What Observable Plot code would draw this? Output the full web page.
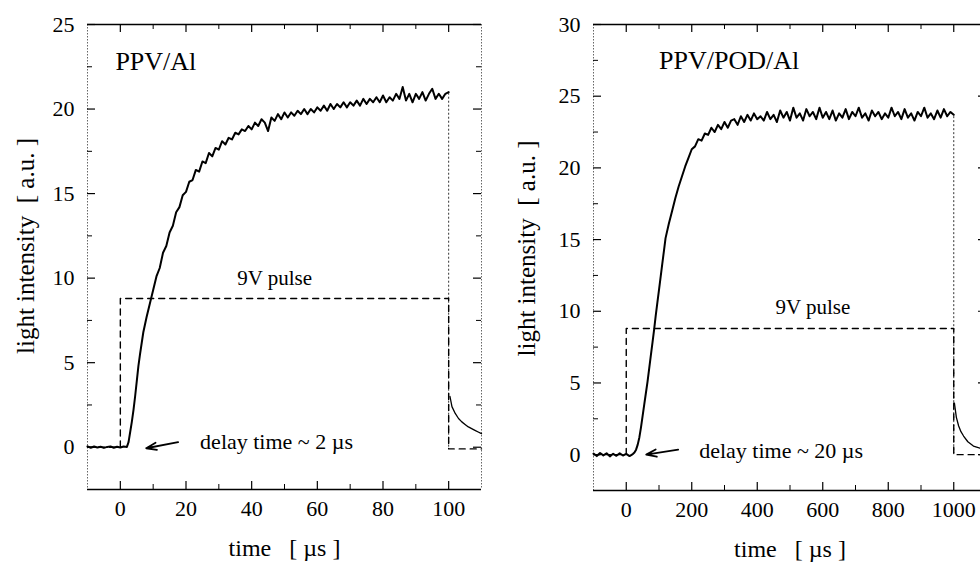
<!DOCTYPE html>
<html><head><meta charset="utf-8">
<script src="https://cdn.jsdelivr.net/npm/d3@7"></script>
<script src="https://cdn.jsdelivr.net/npm/@observablehq/plot@0.6"></script>
<style>
body{margin:0;background:#fff;}
#wrap{width:980px;height:562px;overflow:hidden;display:flex;background:#fff;}
#wrap svg{flex:none;display:block;}
</style></head><body><div id="wrap"></div>
<script>
// ---------- LEFT PANEL DATA (PPV/Al) ----------
const leftOnTime = [-10,-9,-8,-7,-6,-5,-4,-3,-2,-1,0,1,2,2.5,3,3.5,4,4.5,5,5.5,6,7,8,9,10,
  11,12,13,14,15,16,17,18,19,20,21,22,23,24,25,26,27,28,29,30,31,32,33,34,35,36,37,38,39,40,
  41,42,43,44,45,46,47,48,49,50,51,52,53,54,55,56,57,58,59,60,61,62,63,64,65,66,67,68,69,70,
  71,72,73,74,75,76,77,78,79,80,81,82,83,84,85,86,87,88,89,90,91,92,93,94,95,96,97,98,99,100];
const leftOnValue = [0.05,-0.03,0.04,-0.02,0.03,-0.04,0.02,0.05,-0.03,0.03,-0.02,0.04,0.02,
  0.3,0.9,1.5,2.2,3.0,3.9,4.8,5.5,6.8,7.7,8.5,9.3,
  10.1,10.6,11.5,11.9,12.7,13.1,13.9,14.2,14.9,15.1,15.7,15.8,16.4,16.3,16.9,16.8,17.4,17.2,17.7,17.6,
  18.1,17.9,18.3,18.2,18.6,18.5,18.8,18.7,19.0,18.8,19.2,19.0,19.4,19.2,18.7,19.5,19.3,19.7,19.4,19.8,
  19.5,19.8,19.6,19.9,19.7,20.0,19.7,20.0,19.8,20.1,19.9,20.2,19.9,20.3,20.0,20.3,20.1,20.4,20.1,20.4,
  20.2,20.5,20.2,20.6,20.3,20.6,20.4,20.7,20.4,20.8,20.4,20.7,20.5,20.9,20.6,21.3,20.5,20.9,20.4,20.9,
  20.6,21.0,20.5,20.9,21.2,20.6,20.9,20.6,20.9,21.0];
const leftOffTime  = [100.4,101,102,103,104,105,106,107,108,109,110];
const leftOffValue = [3.0,2.4,2.0,1.7,1.5,1.35,1.2,1.1,1.0,0.9,0.8];
const leftPulseTime  = [-10,0,0,100,100,110];
const leftPulseValue = [0,0,8.8,8.8,-0.1,-0.1];
const leftXTicks = [0,20,40,60,80,100];
const leftXMinor = [10,30,50,70,90];
const leftYTicks = [0,5,10,15,20,25];
const leftYMinor = [2.5,7.5,12.5,17.5,22.5];

// ---------- RIGHT PANEL DATA (PPV/POD/Al) ----------
const rightOnTime = [-100,-90,-80,-70,-60,-50,-40,-30,-20,-10,0,10,20,
  25,30,35,40,45,50,55,60,65,70,75,80,85,90,95,100,105,110,115,120,130,140,150,160,170,180,
  190,200,210,220,230,240,250,260,270,280,290,300,310,320,
  330,340,350,360,370,380,390,400,410,420,430,440,450,460,470,480,490,500,510,520,530,540,550,560,
  570,580,590,600,610,620,630,640,650,660,670,680,690,700,710,720,730,740,750,760,770,780,790,800,
  810,820,830,840,850,860,870,880,890,900,910,920,930,940,950,960,970,980,990,1000];
const rightOnValue = [0.08,-0.1,0.12,-0.05,0.1,-0.12,0.06,-0.08,0.1,-0.06,0.05,-0.1,0.04,
  0.15,0.35,0.7,1.2,1.9,2.7,3.5,4.3,5.1,6.0,6.9,7.8,8.7,9.7,10.6,11.5,12.4,13.3,14.2,15.1,16.1,17.0,17.9,18.7,19.4,20.1,
  20.7,21.3,21.5,22.0,21.9,22.4,22.3,22.8,22.5,23.0,22.7,23.2,22.8,23.3,
  23.4,23.0,23.6,23.2,23.7,23.3,23.8,23.4,23.6,23.3,23.9,23.4,23.7,23.2,24.0,23.5,23.9,23.3,24.2,23.5,23.8,23.3,24.1,23.6,
  23.9,23.4,24.2,23.5,23.9,23.4,24.0,23.3,23.8,23.5,24.1,23.4,23.9,23.6,24.2,23.5,23.8,23.3,24.0,23.6,23.9,23.4,23.8,23.5,
  24.2,23.6,23.9,23.4,24.1,23.5,23.8,23.3,23.9,23.6,24.2,23.5,23.8,23.4,24.0,23.5,24.1,23.6,23.9,23.7];
const rightOffTime  = [1002,1008,1015,1022,1030,1043,1060,1080,1100];
const rightOffValue = [3.6,2.6,2.0,1.6,1.3,0.9,0.6,0.45,0.35];
const rightPulseTime  = [-100,0,0,1000,1000,1100];
const rightPulseValue = [0,0,8.8,8.8,0,0];
const rightXTicks = [0,200,400,600,800,1000];
const rightXMinor = [100,300,500,700,900];
const rightYTicks = [0,5,10,15,20,25,30];
const rightYMinor = [2.5,7.5,12.5,17.5,22.5,27.5];

// ---------- TEXT ----------
const yTitle = "light intensity  [ a.u. ]";
const xTitle = "time   [ \u00b5s ]";
const leftSample = "PPV/Al", rightSample = "PPV/POD/Al";
const pulseText = "9V pulse";
const leftDelayText = "delay time ~ 2 \u00b5s", rightDelayText = "delay time ~ 20 \u00b5s";

const FONT = "'Liberation Serif', 'Times New Roman', serif";

function panel(o) {
  const H = 562;
  const fw = o.width - o.ml - o.mr, fh = H - o.mt - o.mb;
  const zip = (a, b) => a.map((t, i) => ({t, v: b[i]}));
  const on = zip(o.onT, o.onV), off = zip(o.offT, o.offV), pulse = zip(o.pulseT, o.pulseV);
  const [x0, x1] = o.xDomain, [y0, y1] = o.yDomain;
  const lastOn = o.onV[o.onV.length - 1];
  return Plot.plot({
    width: o.width, height: H,
    marginLeft: o.ml, marginRight: o.mr, marginTop: o.mt, marginBottom: o.mb,
    style: {fontFamily: FONT, fontSize: "22px", color: "#000", background: "#fff", overflow: "visible"},
    x: {domain: o.xDomain, ticks: o.xTicks, tickSize: 0, tickPadding: 11, tickFormat: d => String(d), label: null},
    y: {domain: o.yDomain, ticks: o.yTicks, tickSize: 0, tickPadding: 13, tickFormat: d => String(d), label: null},
    marks: [
      Plot.ruleX([x0, x1], {stroke: "#666", strokeWidth: 1, strokeDasharray: "1.5,1.5"}),
      Plot.ruleY([y0, y1], {stroke: "#000", strokeWidth: 1.7}),
      Plot.ruleX(o.xTicks, {insetTop: fh - 8, strokeWidth: 1.2}),
      Plot.ruleX(o.xTicks, {insetBottom: fh - 8, strokeWidth: 1.2}),
      Plot.ruleX(o.xMinor, {insetTop: fh - 5, strokeWidth: 1}),
      Plot.ruleX(o.xMinor, {insetBottom: fh - 5, strokeWidth: 1}),
      Plot.ruleY(o.yTicks, {insetRight: fw - 8, strokeWidth: 1.2}),
      Plot.ruleY(o.yTicks, {insetLeft: fw - 8, strokeWidth: 1.2}),
      Plot.ruleY(o.yMinor, {insetRight: fw - 5, strokeWidth: 1}),
      Plot.ruleY(o.yMinor, {insetLeft: fw - 5, strokeWidth: 1}),
      Plot.ruleX(o.dropT, {y1: 0, y2: lastOn, stroke: "#333", strokeWidth: 1, strokeDasharray: "2,2"}),
      Plot.line(pulse, {x: "t", y: "v", stroke: "#000", strokeWidth: 1.4, strokeDasharray: "6,5"}),
      Plot.line(on, {x: "t", y: "v", stroke: "#000", strokeWidth: 2}),
      Plot.line(off, {x: "t", y: "v", stroke: "#000", strokeWidth: 1.3}),
      Plot.arrow([o.arrow], {x1: "x1", y1: "y1", x2: "x2", y2: "y2", stroke: "#000", strokeWidth: 1.8, headLength: 9, headAngle: 40}),
      Plot.text([o.sample], {text: d => d, x: o.samplePos[0], y: o.samplePos[1], textAnchor: "start", fontSize: 26}),
      Plot.text([pulseText], {text: d => d, x: o.pulsePos[0], y: o.pulsePos[1], fontSize: 21}),
      Plot.text([o.delay], {text: d => d, x: o.delayPos[0], y: o.delayPos[1], textAnchor: "start", fontSize: 22}),
      Plot.text([yTitle], {text: d => d, frameAnchor: "left", textAnchor: "middle", lineAnchor: "middle", rotate: -90, dx: o.ylDx, dy: o.ylDy, fontSize: 25}),
      Plot.text([xTitle], {text: d => d, frameAnchor: "bottom", textAnchor: "middle", lineAnchor: "middle", dy: 59, fontSize: 24})
    ]
  });
}

const wrap = document.getElementById("wrap");
wrap.append(panel({
  width: 490, ml: 87, mr: 9, mt: 24, mb: 73,
  xDomain: [-10, 110], yDomain: [-2.5, 25],
  xTicks: leftXTicks, xMinor: leftXMinor, yTicks: leftYTicks, yMinor: leftYMinor,
  onT: leftOnTime, onV: leftOnValue, offT: leftOffTime, offV: leftOffValue,
  pulseT: leftPulseTime, pulseV: leftPulseValue, dropT: [100],
  arrow: {x1: 17.6, y1: 0.3, x2: 7.9, y2: -0.06},
  sample: leftSample, samplePos: [-1.5, 22.8],
  pulsePos: [47, 10.0],
  delay: leftDelayText, delayPos: [24.3, 0.3],
  ylDx: -62, ylDy: -11
}));
wrap.append(panel({
  width: 510, ml: 103, mr: 14, mt: 24, mb: 72,
  xDomain: [-100, 1100], yDomain: [-2.5, 30],
  xTicks: rightXTicks, xMinor: rightXMinor, yTicks: rightYTicks, yMinor: rightYMinor,
  onT: rightOnTime, onV: rightOnValue, offT: rightOffTime, offV: rightOffValue,
  pulseT: rightPulseTime, pulseV: rightPulseValue, dropT: [1000],
  arrow: {x1: 158.5, y1: 0.35, x2: 61, y2: 0},
  sample: rightSample, samplePos: [100, 27.5],
  pulsePos: [570, 10.3],
  delay: rightDelayText, delayPos: [222.6, 0.28],
  ylDx: -67, ylDy: -9
}));
</script></body></html>
